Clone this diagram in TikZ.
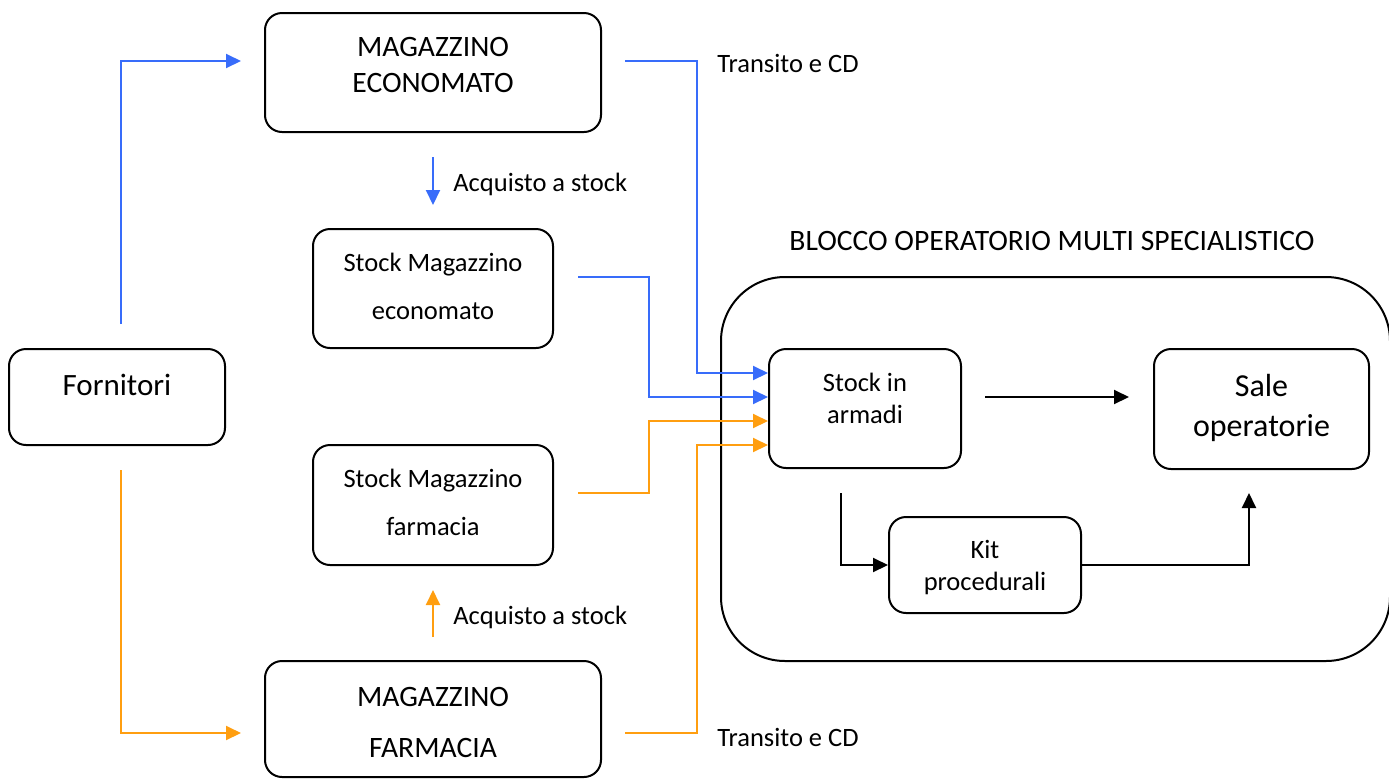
\documentclass[tikz,border=0pt]{standalone}
\usepackage{fontspec}
\setmainfont{Carlito}
\usetikzlibrary{arrows.meta,calc}
\definecolor{cblue}{RGB}{56,108,250}
\definecolor{corange}{RGB}{255,158,16}
\tikzset{
  box/.style={draw, line width=1pt, rounded corners=8.5pt, inner sep=0pt},
  txt/.style={inner sep=0pt, align=center, font=\fontsize{13.25}{18}\selectfont},
  conn/.style={line width=1pt, -{Triangle[length=7.5pt,width=7pt]}},
  bl/.style={conn, cblue},
  or/.style={conn, corange},
  bk/.style={conn, black},
}
\begin{document}
\begin{tikzpicture}[x=0.5pt,y=-0.5pt]
\useasboundingbox (0,0) rectangle (1389,778);
% container
\draw[line width=1pt, rounded corners=32pt] (721,277) rectangle (1390,661);
\node[txt, anchor=center, font=\fontsize{14.8}{18}\selectfont] (title) at (1052,241) {BLOCCO OPERATORIO MULTI SPECIALISTICO};
% boxes
\node[box, minimum width=168pt, minimum height=59.5pt] (me) at (433,72.5) {};
\node[txt, font=\fontsize{14.8}{18}\selectfont] at (433,65) {MAGAZZINO\\ECONOMATO};
\node[box, minimum width=120pt, minimum height=59.5pt] (sme) at (433,288.5) {};
\node[txt, font=\fontsize{13.25}{24}\selectfont] at (433,286) {Stock Magazzino\\economato};
\node[box, minimum width=120pt, minimum height=60pt] (smf) at (433,505) {};
\node[txt, font=\fontsize{13.25}{24}\selectfont] at (433,502) {Stock Magazzino\\farmacia};
\node[box, minimum width=168pt, minimum height=58pt] (mf) at (433,719) {};
\node[txt, font=\fontsize{14.8}{25.5}\selectfont] at (433,722) {MAGAZZINO\\FARMACIA};
\node[box, minimum width=108pt, minimum height=48pt] (forn) at (117,397) {};
\node[txt, font=\fontsize{15.5}{18}\selectfont] at (117,385) {Fornitori};
\node[box, minimum width=96pt, minimum height=59.5pt] (sia) at (865,408.5) {};
\node[txt, font=\fontsize{13.25}{16}\selectfont] at (865,398) {Stock in\\armadi};
\node[box, minimum width=107.5pt, minimum height=60pt] (sale) at (1261.5,409) {};
\node[txt, font=\fontsize{16}{20}\selectfont] at (1261.5,408) {Sale\\operatorie};
\node[box, minimum width=96pt, minimum height=48pt] (kit) at (985,565) {};
\node[txt, font=\fontsize{13.25}{16}\selectfont] at (985,568) {Kit\\procedurali};
% labels
\node[txt, anchor=west] (acq1) at (453,184) {Acquisto a stock};
\node[txt, anchor=west] (acq2) at (453,617) {Acquisto a stock};
\node[txt, anchor=west] (tr1) at (717,63) {Transito e CD};
\node[txt, anchor=west] (tr2) at (717,737) {Transito e CD};
% free ends
\coordinate (fb0) at (121,324);
\coordinate (fb1) at (241,61);
\coordinate (fo0) at (121,470);
\coordinate (fo1) at (241,733);
\coordinate (e1) at (625,61);
\coordinate (e2) at (578,277);
\coordinate (f1) at (578,493);
\coordinate (f2) at (625,733);
\coordinate (a0) at (433,157);
\coordinate (a1) at (433,205);
\coordinate (b0) at (433,637);
\coordinate (b1) at (433,590);
\coordinate (s0) at (985,397);
\coordinate (s1) at (1129,397);
\coordinate (k0) at (841,493);
\coordinate (k1) at (1249,493);
% connectors
\draw[bl] (fb0) |- (fb1);
\draw[or] (fo0) |- (fo1);
\draw[bl] (e1) -- (697,61) |- ([yshift=17.75pt]sia.west);
\draw[bl] (e2) -- (649,277) |- ([yshift=5.75pt]sia.west);
\draw[or] (f1) -- (649,493) |- ([yshift=-6.25pt]sia.west);
\draw[or] (f2) -- (697,733) |- ([yshift=-18.25pt]sia.west);
\draw[bl] (a0) -- (a1);
\draw[or] (b0) -- (b1);
\draw[bk] (s0) -- (s1);
\draw[bk] (k0) |- (kit.west);
\draw[bk] (kit.east) -| (k1);
\end{tikzpicture}
\end{document}
